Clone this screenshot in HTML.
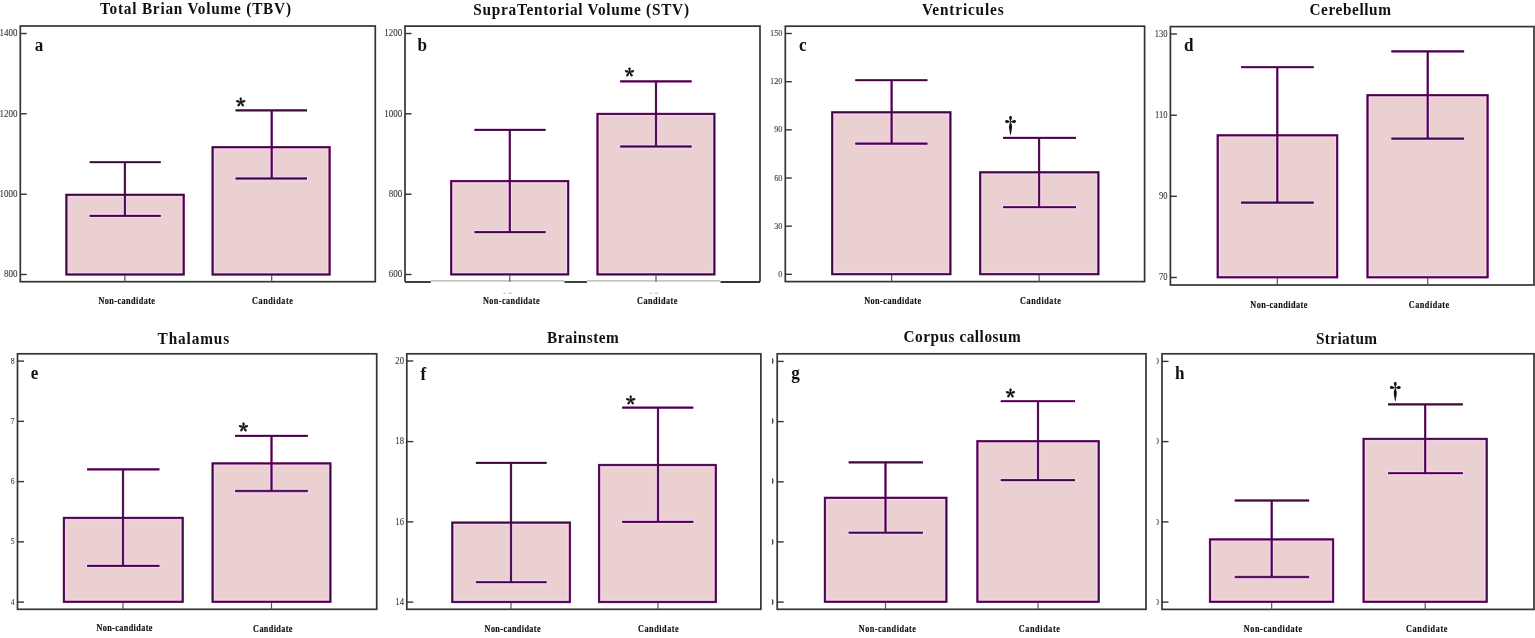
<!DOCTYPE html>
<html><head><meta charset="utf-8"><title>Figure</title>
<style>
html,body{margin:0;padding:0;background:#fff;}
body{width:1535px;height:638px;overflow:hidden;}
svg{display:block;}
text{font-family:"Liberation Serif","Times New Roman",serif;}
.tt{font-size:17px;font-weight:bold;fill:#111;}
.lt{font-size:19px;font-weight:bold;fill:#111;}
.xl{font-size:10.5px;font-weight:bold;fill:#111;stroke:#111;stroke-width:0.18px;}
.tl{font-size:10px;fill:#383838;stroke:#383838;stroke-width:0.1px;}
.st{font-family:"Noto Serif CJK SC","Liberation Serif",serif;font-size:19.5px;font-weight:bold;fill:#111;stroke:#111;stroke-width:0.5px;}
.dg{font-family:"Noto Serif CJK SC","Liberation Serif",serif;font-size:21px;font-weight:bold;fill:#111;}
</style></head>
<body>
<svg width="1535" height="638" viewBox="0 0 1535 638">
<rect width="1535" height="638" fill="#fff"/>
<rect x="20.3" y="26" width="355" height="255.7" fill="none" stroke="#343434" stroke-width="1.7"/>
<line x1="20.3" y1="33.5" x2="26.8" y2="33.5" stroke="#343434" stroke-width="1.4"/>
<line x1="20.3" y1="113.8" x2="26.8" y2="113.8" stroke="#343434" stroke-width="1.4"/>
<line x1="20.3" y1="194.2" x2="26.8" y2="194.2" stroke="#343434" stroke-width="1.4"/>
<line x1="20.3" y1="274.5" x2="26.8" y2="274.5" stroke="#343434" stroke-width="1.4"/>
<text class="tl" style="font-size:10px" transform="translate(17.5 36.4) scale(0.9 1)" x="0" y="0" text-anchor="end">1400</text>
<text class="tl" style="font-size:10px" transform="translate(17.5 116.7) scale(0.9 1)" x="0" y="0" text-anchor="end">1200</text>
<text class="tl" style="font-size:10px" transform="translate(17.5 197.1) scale(0.9 1)" x="0" y="0" text-anchor="end">1000</text>
<text class="tl" style="font-size:10px" transform="translate(17.5 277.4) scale(0.9 1)" x="0" y="0" text-anchor="end">800</text>
<line x1="124.9" y1="274.5" x2="124.9" y2="281.7" stroke="#555" stroke-width="1.2"/>
<rect x="66.4" y="194.8" width="117.3" height="79.7" fill="#ebd0d2"/>
<rect x="68.3" y="196.7" width="113.5" height="75.9" fill="none" stroke="#f6d3f5" stroke-width="1.2"/>
<line x1="124.9" y1="194.8" x2="124.9" y2="215.8" stroke="#f6d3f5" stroke-width="4.4"/>
<line x1="88.7" y1="215.8" x2="161.7" y2="215.8" stroke="#f6d3f5" stroke-width="4.4"/>
<rect x="66.4" y="194.8" width="117.3" height="79.7" fill="none" stroke="#9c40a0" stroke-width="2.3"/>
<path d="M124.9 162.2V215.8M89.7 162.2H160.7M89.7 215.8H160.7" fill="none" stroke="#9c40a0" stroke-width="2.3"/>
<rect x="66.4" y="194.8" width="117.3" height="79.7" fill="none" stroke="#3e0a3e" stroke-width="1.65"/>
<path d="M124.9 162.2V215.8M89.7 162.2H160.7M89.7 215.8H160.7" fill="none" stroke="#3e0a3e" stroke-width="1.65"/>
<line x1="271.7" y1="274.5" x2="271.7" y2="281.7" stroke="#555" stroke-width="1.2"/>
<rect x="212.6" y="147.2" width="117" height="127.3" fill="#ebd0d2"/>
<rect x="214.5" y="149.1" width="113.2" height="123.5" fill="none" stroke="#f6d3f5" stroke-width="1.2"/>
<line x1="271.7" y1="147.2" x2="271.7" y2="178.5" stroke="#f6d3f5" stroke-width="4.4"/>
<line x1="234.6" y1="178.5" x2="308" y2="178.5" stroke="#f6d3f5" stroke-width="4.4"/>
<rect x="212.6" y="147.2" width="117" height="127.3" fill="none" stroke="#9c40a0" stroke-width="2.3"/>
<path d="M271.7 110.3V178.5M235.6 110.3H307M235.6 178.5H307" fill="none" stroke="#9c40a0" stroke-width="2.3"/>
<rect x="212.6" y="147.2" width="117" height="127.3" fill="none" stroke="#3e0a3e" stroke-width="1.65"/>
<path d="M271.7 110.3V178.5M235.6 110.3H307M235.6 178.5H307" fill="none" stroke="#3e0a3e" stroke-width="1.65"/>
<text class="tt" transform="translate(100 13.8) scale(0.9 1)" x="0" y="0" textLength="212.22" lengthAdjust="spacing">Total Brian Volume (TBV)</text>
<text class="lt" transform="translate(34.8 51) scale(0.9 1)" x="0" y="0">a</text>
<text class="xl" transform="translate(98.4 303.7) scale(0.78 1)" x="0" y="0" textLength="72.56" lengthAdjust="spacing">Non-candidate</text>
<text class="xl" transform="translate(252.1 303.7) scale(0.78 1)" x="0" y="0" textLength="52.18" lengthAdjust="spacing">Candidate</text>
<text class="st" x="240.85" y="114.1" text-anchor="middle">*</text>
<path d="M405 281.7V26.2H760V281.7" fill="none" stroke="#343434" stroke-width="1.7"/>
<line x1="405" y1="282" x2="430.8" y2="282" stroke="#343434" stroke-width="1.9"/>
<line x1="564.4" y1="282" x2="586.9" y2="282" stroke="#343434" stroke-width="1.9"/>
<line x1="720.5" y1="282" x2="760" y2="282" stroke="#343434" stroke-width="1.9"/>
<rect x="503.3" y="292.6" width="2.6" height="1.2" fill="#c8c8c8"/>
<rect x="508.2" y="292.6" width="4.1" height="1.2" fill="#c8c8c8"/>
<rect x="649.8" y="292.6" width="2.6" height="1.2" fill="#c8c8c8"/>
<rect x="654.5" y="292.6" width="4" height="1.2" fill="#c8c8c8"/>
<line x1="430.8" y1="280.8" x2="564.4" y2="280.8" stroke="#b0b0b0" stroke-width="1.3"/>
<line x1="586.9" y1="280.8" x2="720.5" y2="280.8" stroke="#b0b0b0" stroke-width="1.3"/>
<line x1="405" y1="33.5" x2="411.5" y2="33.5" stroke="#343434" stroke-width="1.4"/>
<line x1="405" y1="113.8" x2="411.5" y2="113.8" stroke="#343434" stroke-width="1.4"/>
<line x1="405" y1="194.2" x2="411.5" y2="194.2" stroke="#343434" stroke-width="1.4"/>
<line x1="405" y1="274.5" x2="411.5" y2="274.5" stroke="#343434" stroke-width="1.4"/>
<text class="tl" style="font-size:10px" transform="translate(402.2 36.4) scale(0.9 1)" x="0" y="0" text-anchor="end">1200</text>
<text class="tl" style="font-size:10px" transform="translate(402.2 116.7) scale(0.9 1)" x="0" y="0" text-anchor="end">1000</text>
<text class="tl" style="font-size:10px" transform="translate(402.2 197.1) scale(0.9 1)" x="0" y="0" text-anchor="end">800</text>
<text class="tl" style="font-size:10px" transform="translate(402.2 277.4) scale(0.9 1)" x="0" y="0" text-anchor="end">600</text>
<line x1="509.8" y1="274.4" x2="509.8" y2="281.7" stroke="#555" stroke-width="1.2"/>
<rect x="451.2" y="181.1" width="117" height="93.3" fill="#ebd0d2"/>
<rect x="453.1" y="183" width="113.2" height="89.5" fill="none" stroke="#f6d3f5" stroke-width="1.2"/>
<line x1="509.8" y1="181.1" x2="509.8" y2="232.1" stroke="#f6d3f5" stroke-width="4.4"/>
<line x1="473.5" y1="232.1" x2="546.5" y2="232.1" stroke="#f6d3f5" stroke-width="4.4"/>
<rect x="451.2" y="181.1" width="117" height="93.3" fill="none" stroke="#9c40a0" stroke-width="2.3"/>
<path d="M509.8 129.8V232.1M474.5 129.8H545.5M474.5 232.1H545.5" fill="none" stroke="#9c40a0" stroke-width="2.3"/>
<rect x="451.2" y="181.1" width="117" height="93.3" fill="none" stroke="#3e0a3e" stroke-width="1.65"/>
<path d="M509.8 129.8V232.1M474.5 129.8H545.5M474.5 232.1H545.5" fill="none" stroke="#3e0a3e" stroke-width="1.65"/>
<line x1="656" y1="274.4" x2="656" y2="281.7" stroke="#555" stroke-width="1.2"/>
<rect x="597.5" y="113.9" width="116.9" height="160.5" fill="#ebd0d2"/>
<rect x="599.4" y="115.8" width="113.1" height="156.7" fill="none" stroke="#f6d3f5" stroke-width="1.2"/>
<line x1="656" y1="113.9" x2="656" y2="146.5" stroke="#f6d3f5" stroke-width="4.4"/>
<line x1="619.2" y1="146.5" x2="692.6" y2="146.5" stroke="#f6d3f5" stroke-width="4.4"/>
<rect x="597.5" y="113.9" width="116.9" height="160.5" fill="none" stroke="#9c40a0" stroke-width="2.3"/>
<path d="M656 81.4V146.5M620.2 81.4H691.6M620.2 146.5H691.6" fill="none" stroke="#9c40a0" stroke-width="2.3"/>
<rect x="597.5" y="113.9" width="116.9" height="160.5" fill="none" stroke="#3e0a3e" stroke-width="1.65"/>
<path d="M656 81.4V146.5M620.2 81.4H691.6M620.2 146.5H691.6" fill="none" stroke="#3e0a3e" stroke-width="1.65"/>
<text class="tt" transform="translate(473.3 14.9) scale(0.9 1)" x="0" y="0" textLength="239.67" lengthAdjust="spacing">SupraTentorial Volume (STV)</text>
<text class="lt" transform="translate(417.6 51) scale(0.9 1)" x="0" y="0">b</text>
<text class="xl" transform="translate(483 303.7) scale(0.78 1)" x="0" y="0" textLength="72.56" lengthAdjust="spacing">Non-candidate</text>
<text class="xl" transform="translate(637 303.7) scale(0.78 1)" x="0" y="0" textLength="51.92" lengthAdjust="spacing">Candidate</text>
<text class="st" x="629.55" y="83.8" text-anchor="middle">*</text>
<rect x="785.3" y="26.2" width="359.3" height="255.4" fill="none" stroke="#343434" stroke-width="1.7"/>
<line x1="785.3" y1="33.5" x2="791.8" y2="33.5" stroke="#343434" stroke-width="1.4"/>
<line x1="785.3" y1="81.7" x2="791.8" y2="81.7" stroke="#343434" stroke-width="1.4"/>
<line x1="785.3" y1="129.8" x2="791.8" y2="129.8" stroke="#343434" stroke-width="1.4"/>
<line x1="785.3" y1="178" x2="791.8" y2="178" stroke="#343434" stroke-width="1.4"/>
<line x1="785.3" y1="226.2" x2="791.8" y2="226.2" stroke="#343434" stroke-width="1.4"/>
<line x1="785.3" y1="274.3" x2="791.8" y2="274.3" stroke="#343434" stroke-width="1.4"/>
<text class="tl" style="font-size:9.2px" transform="translate(782.5 36.17) scale(0.9 1)" x="0" y="0" text-anchor="end">150</text>
<text class="tl" style="font-size:9.2px" transform="translate(782.5 84.37) scale(0.9 1)" x="0" y="0" text-anchor="end">120</text>
<text class="tl" style="font-size:9.2px" transform="translate(782.5 132.47) scale(0.9 1)" x="0" y="0" text-anchor="end">90</text>
<text class="tl" style="font-size:9.2px" transform="translate(782.5 180.67) scale(0.9 1)" x="0" y="0" text-anchor="end">60</text>
<text class="tl" style="font-size:9.2px" transform="translate(782.5 228.87) scale(0.9 1)" x="0" y="0" text-anchor="end">30</text>
<text class="tl" style="font-size:9.2px" transform="translate(782.5 276.97) scale(0.9 1)" x="0" y="0" text-anchor="end">0</text>
<line x1="891.6" y1="274.2" x2="891.6" y2="281.6" stroke="#555" stroke-width="1.2"/>
<rect x="832.2" y="112.3" width="118.2" height="161.9" fill="#ebd0d2"/>
<rect x="834.1" y="114.2" width="114.4" height="158.1" fill="none" stroke="#f6d3f5" stroke-width="1.2"/>
<line x1="891.6" y1="112.3" x2="891.6" y2="143.6" stroke="#f6d3f5" stroke-width="4.4"/>
<line x1="854.3" y1="143.6" x2="928.4" y2="143.6" stroke="#f6d3f5" stroke-width="4.4"/>
<rect x="832.2" y="112.3" width="118.2" height="161.9" fill="none" stroke="#9c40a0" stroke-width="2.3"/>
<path d="M891.6 80.2V143.6M855.3 80.2H927.4M855.3 143.6H927.4" fill="none" stroke="#9c40a0" stroke-width="2.3"/>
<rect x="832.2" y="112.3" width="118.2" height="161.9" fill="none" stroke="#3e0a3e" stroke-width="1.65"/>
<path d="M891.6 80.2V143.6M855.3 80.2H927.4M855.3 143.6H927.4" fill="none" stroke="#3e0a3e" stroke-width="1.65"/>
<line x1="1039.1" y1="274.2" x2="1039.1" y2="281.6" stroke="#555" stroke-width="1.2"/>
<rect x="980.2" y="172.3" width="118.2" height="101.9" fill="#ebd0d2"/>
<rect x="982.1" y="174.2" width="114.4" height="98.1" fill="none" stroke="#f6d3f5" stroke-width="1.2"/>
<line x1="1039.1" y1="172.3" x2="1039.1" y2="207.2" stroke="#f6d3f5" stroke-width="4.4"/>
<line x1="1002.1" y1="207.2" x2="1077" y2="207.2" stroke="#f6d3f5" stroke-width="4.4"/>
<rect x="980.2" y="172.3" width="118.2" height="101.9" fill="none" stroke="#9c40a0" stroke-width="2.3"/>
<path d="M1039.1 137.8V207.2M1003.1 137.8H1076M1003.1 207.2H1076" fill="none" stroke="#9c40a0" stroke-width="2.3"/>
<rect x="980.2" y="172.3" width="118.2" height="101.9" fill="none" stroke="#3e0a3e" stroke-width="1.65"/>
<path d="M1039.1 137.8V207.2M1003.1 137.8H1076M1003.1 207.2H1076" fill="none" stroke="#3e0a3e" stroke-width="1.65"/>
<text class="tt" transform="translate(921.9 14.9) scale(0.9 1)" x="0" y="0" textLength="90.78" lengthAdjust="spacing">Ventricules</text>
<text class="lt" transform="translate(798.9 51.4) scale(0.9 1)" x="0" y="0">c</text>
<text class="xl" transform="translate(864.2 303.9) scale(0.78 1)" x="0" y="0" textLength="72.95" lengthAdjust="spacing">Non-candidate</text>
<text class="xl" transform="translate(1020.1 303.9) scale(0.78 1)" x="0" y="0" textLength="52.31" lengthAdjust="spacing">Candidate</text>
<text class="dg" x="1010.4" y="133.3" text-anchor="middle">†</text>
<rect x="1170.4" y="26.6" width="363.6" height="258.4" fill="none" stroke="#343434" stroke-width="1.7"/>
<line x1="1170.4" y1="34" x2="1176.9" y2="34" stroke="#343434" stroke-width="1.4"/>
<line x1="1170.4" y1="115.2" x2="1176.9" y2="115.2" stroke="#343434" stroke-width="1.4"/>
<line x1="1170.4" y1="196.3" x2="1176.9" y2="196.3" stroke="#343434" stroke-width="1.4"/>
<line x1="1170.4" y1="277.5" x2="1176.9" y2="277.5" stroke="#343434" stroke-width="1.4"/>
<text class="tl" style="font-size:9.5px" transform="translate(1167.6 36.76) scale(0.9 1)" x="0" y="0" text-anchor="end">130</text>
<text class="tl" style="font-size:9.5px" transform="translate(1167.6 117.95) scale(0.9 1)" x="0" y="0" text-anchor="end">110</text>
<text class="tl" style="font-size:9.5px" transform="translate(1167.6 199.06) scale(0.9 1)" x="0" y="0" text-anchor="end">90</text>
<text class="tl" style="font-size:9.5px" transform="translate(1167.6 280.25) scale(0.9 1)" x="0" y="0" text-anchor="end">70</text>
<line x1="1277.3" y1="277.3" x2="1277.3" y2="285" stroke="#555" stroke-width="1.2"/>
<rect x="1217.7" y="135.3" width="119.5" height="142" fill="#ebd0d2"/>
<rect x="1219.6" y="137.2" width="115.7" height="138.2" fill="none" stroke="#f6d3f5" stroke-width="1.2"/>
<line x1="1277.3" y1="135.3" x2="1277.3" y2="202.6" stroke="#f6d3f5" stroke-width="4.4"/>
<line x1="1240" y1="202.6" x2="1314.7" y2="202.6" stroke="#f6d3f5" stroke-width="4.4"/>
<rect x="1217.7" y="135.3" width="119.5" height="142" fill="none" stroke="#9c40a0" stroke-width="2.3"/>
<path d="M1277.3 67.2V202.6M1241 67.2H1313.7M1241 202.6H1313.7" fill="none" stroke="#9c40a0" stroke-width="2.3"/>
<rect x="1217.7" y="135.3" width="119.5" height="142" fill="none" stroke="#3e0a3e" stroke-width="1.65"/>
<path d="M1277.3 67.2V202.6M1241 67.2H1313.7M1241 202.6H1313.7" fill="none" stroke="#3e0a3e" stroke-width="1.65"/>
<line x1="1427.7" y1="277.3" x2="1427.7" y2="285" stroke="#555" stroke-width="1.2"/>
<rect x="1367.5" y="95.2" width="120.1" height="182.1" fill="#ebd0d2"/>
<rect x="1369.4" y="97.1" width="116.3" height="178.3" fill="none" stroke="#f6d3f5" stroke-width="1.2"/>
<line x1="1427.7" y1="95.2" x2="1427.7" y2="138.6" stroke="#f6d3f5" stroke-width="4.4"/>
<line x1="1390.4" y1="138.6" x2="1465.1" y2="138.6" stroke="#f6d3f5" stroke-width="4.4"/>
<rect x="1367.5" y="95.2" width="120.1" height="182.1" fill="none" stroke="#9c40a0" stroke-width="2.3"/>
<path d="M1427.7 51.4V138.6M1391.4 51.4H1464.1M1391.4 138.6H1464.1" fill="none" stroke="#9c40a0" stroke-width="2.3"/>
<rect x="1367.5" y="95.2" width="120.1" height="182.1" fill="none" stroke="#3e0a3e" stroke-width="1.65"/>
<path d="M1427.7 51.4V138.6M1391.4 51.4H1464.1M1391.4 138.6H1464.1" fill="none" stroke="#3e0a3e" stroke-width="1.65"/>
<text class="tt" transform="translate(1309.5 14.9) scale(0.9 1)" x="0" y="0" textLength="90.44" lengthAdjust="spacing">Cerebellum</text>
<text class="lt" transform="translate(1183.9 51.4) scale(0.9 1)" x="0" y="0">d</text>
<text class="xl" transform="translate(1250.3 307.8) scale(0.78 1)" x="0" y="0" textLength="73.21" lengthAdjust="spacing">Non-candidate</text>
<text class="xl" transform="translate(1408.8 307.5) scale(0.78 1)" x="0" y="0" textLength="51.79" lengthAdjust="spacing">Candidate</text>
<rect x="17.5" y="353.8" width="359.2" height="255.5" fill="none" stroke="#343434" stroke-width="1.7"/>
<line x1="17.5" y1="361.1" x2="24" y2="361.1" stroke="#343434" stroke-width="1.4"/>
<line x1="17.5" y1="421.35" x2="24" y2="421.35" stroke="#343434" stroke-width="1.4"/>
<line x1="17.5" y1="481.6" x2="24" y2="481.6" stroke="#343434" stroke-width="1.4"/>
<line x1="17.5" y1="541.85" x2="24" y2="541.85" stroke="#343434" stroke-width="1.4"/>
<line x1="17.5" y1="602.1" x2="24" y2="602.1" stroke="#343434" stroke-width="1.4"/>
<text class="tl" style="font-size:8.5px" transform="translate(14.7 363.56) scale(0.9 1)" x="0" y="0" text-anchor="end">8</text>
<text class="tl" style="font-size:8.5px" transform="translate(14.7 423.81) scale(0.9 1)" x="0" y="0" text-anchor="end">7</text>
<text class="tl" style="font-size:8.5px" transform="translate(14.7 484.06) scale(0.9 1)" x="0" y="0" text-anchor="end">6</text>
<text class="tl" style="font-size:8.5px" transform="translate(14.7 544.32) scale(0.9 1)" x="0" y="0" text-anchor="end">5</text>
<text class="tl" style="font-size:8.5px" transform="translate(14.7 604.57) scale(0.9 1)" x="0" y="0" text-anchor="end">4</text>
<line x1="123" y1="601.8" x2="123" y2="609.3" stroke="#555" stroke-width="1.2"/>
<rect x="63.9" y="517.9" width="118.8" height="83.9" fill="#ebd0d2"/>
<rect x="65.8" y="519.8" width="115" height="80.1" fill="none" stroke="#f6d3f5" stroke-width="1.2"/>
<line x1="123" y1="517.9" x2="123" y2="565.9" stroke="#f6d3f5" stroke-width="4.4"/>
<line x1="86.1" y1="565.9" x2="160.4" y2="565.9" stroke="#f6d3f5" stroke-width="4.4"/>
<rect x="63.9" y="517.9" width="118.8" height="83.9" fill="none" stroke="#9c40a0" stroke-width="2.3"/>
<path d="M123 469.4V565.9M87.1 469.4H159.4M87.1 565.9H159.4" fill="none" stroke="#9c40a0" stroke-width="2.3"/>
<rect x="63.9" y="517.9" width="118.8" height="83.9" fill="none" stroke="#3e0a3e" stroke-width="1.65"/>
<path d="M123 469.4V565.9M87.1 469.4H159.4M87.1 565.9H159.4" fill="none" stroke="#3e0a3e" stroke-width="1.65"/>
<line x1="271.5" y1="601.8" x2="271.5" y2="609.3" stroke="#555" stroke-width="1.2"/>
<rect x="212.6" y="463.4" width="117.8" height="138.4" fill="#ebd0d2"/>
<rect x="214.5" y="465.3" width="114" height="134.6" fill="none" stroke="#f6d3f5" stroke-width="1.2"/>
<line x1="271.5" y1="463.4" x2="271.5" y2="491" stroke="#f6d3f5" stroke-width="4.4"/>
<line x1="234.1" y1="491" x2="308.8" y2="491" stroke="#f6d3f5" stroke-width="4.4"/>
<rect x="212.6" y="463.4" width="117.8" height="138.4" fill="none" stroke="#9c40a0" stroke-width="2.3"/>
<path d="M271.5 435.8V491M235.1 435.8H307.8M235.1 491H307.8" fill="none" stroke="#9c40a0" stroke-width="2.3"/>
<rect x="212.6" y="463.4" width="117.8" height="138.4" fill="none" stroke="#3e0a3e" stroke-width="1.65"/>
<path d="M271.5 435.8V491M235.1 435.8H307.8M235.1 491H307.8" fill="none" stroke="#3e0a3e" stroke-width="1.65"/>
<text class="tt" transform="translate(157.6 343.8) scale(0.9 1)" x="0" y="0" textLength="79.44" lengthAdjust="spacing">Thalamus</text>
<text class="lt" transform="translate(30.8 378.9) scale(0.9 1)" x="0" y="0">e</text>
<text class="xl" transform="translate(96.4 631.4) scale(0.78 1)" x="0" y="0" textLength="71.79" lengthAdjust="spacing">Non-candidate</text>
<text class="xl" transform="translate(253.1 631.5) scale(0.78 1)" x="0" y="0" textLength="50.51" lengthAdjust="spacing">Candidate</text>
<text class="st" x="243.5" y="439.2" text-anchor="middle">*</text>
<rect x="406.8" y="353.8" width="354.1" height="255.5" fill="none" stroke="#343434" stroke-width="1.7"/>
<line x1="406.8" y1="361" x2="413.3" y2="361" stroke="#343434" stroke-width="1.4"/>
<line x1="406.8" y1="441.6" x2="413.3" y2="441.6" stroke="#343434" stroke-width="1.4"/>
<line x1="406.8" y1="521.9" x2="413.3" y2="521.9" stroke="#343434" stroke-width="1.4"/>
<line x1="406.8" y1="602.1" x2="413.3" y2="602.1" stroke="#343434" stroke-width="1.4"/>
<text class="tl" style="font-size:9.6px" transform="translate(404 363.78) scale(0.9 1)" x="0" y="0" text-anchor="end">20</text>
<text class="tl" style="font-size:9.6px" transform="translate(404 444.38) scale(0.9 1)" x="0" y="0" text-anchor="end">18</text>
<text class="tl" style="font-size:9.6px" transform="translate(404 524.68) scale(0.9 1)" x="0" y="0" text-anchor="end">16</text>
<text class="tl" style="font-size:9.6px" transform="translate(404 604.88) scale(0.9 1)" x="0" y="0" text-anchor="end">14</text>
<line x1="511" y1="602" x2="511" y2="609.3" stroke="#555" stroke-width="1.2"/>
<rect x="452.3" y="522.6" width="117.6" height="79.4" fill="#ebd0d2"/>
<rect x="454.2" y="524.5" width="113.8" height="75.6" fill="none" stroke="#f6d3f5" stroke-width="1.2"/>
<line x1="511" y1="522.6" x2="511" y2="582.2" stroke="#f6d3f5" stroke-width="4.4"/>
<line x1="474.9" y1="582.2" x2="547.6" y2="582.2" stroke="#f6d3f5" stroke-width="4.4"/>
<rect x="452.3" y="522.6" width="117.6" height="79.4" fill="none" stroke="#9c40a0" stroke-width="2.3"/>
<path d="M511 462.9V582.2M475.9 462.9H546.6M475.9 582.2H546.6" fill="none" stroke="#9c40a0" stroke-width="2.3"/>
<rect x="452.3" y="522.6" width="117.6" height="79.4" fill="none" stroke="#3e0a3e" stroke-width="1.65"/>
<path d="M511 462.9V582.2M475.9 462.9H546.6M475.9 582.2H546.6" fill="none" stroke="#3e0a3e" stroke-width="1.65"/>
<line x1="658" y1="602" x2="658" y2="609.3" stroke="#555" stroke-width="1.2"/>
<rect x="599.1" y="465" width="116.7" height="137" fill="#ebd0d2"/>
<rect x="601" y="466.9" width="112.9" height="133.2" fill="none" stroke="#f6d3f5" stroke-width="1.2"/>
<line x1="658" y1="465" x2="658" y2="521.9" stroke="#f6d3f5" stroke-width="4.4"/>
<line x1="621.2" y1="521.9" x2="694.3" y2="521.9" stroke="#f6d3f5" stroke-width="4.4"/>
<rect x="599.1" y="465" width="116.7" height="137" fill="none" stroke="#9c40a0" stroke-width="2.3"/>
<path d="M658 407.6V521.9M622.2 407.6H693.3M622.2 521.9H693.3" fill="none" stroke="#9c40a0" stroke-width="2.3"/>
<rect x="599.1" y="465" width="116.7" height="137" fill="none" stroke="#3e0a3e" stroke-width="1.65"/>
<path d="M658 407.6V521.9M622.2 407.6H693.3M622.2 521.9H693.3" fill="none" stroke="#3e0a3e" stroke-width="1.65"/>
<text class="tt" transform="translate(547 342.6) scale(0.9 1)" x="0" y="0" textLength="79.67" lengthAdjust="spacing">Brainstem</text>
<text class="lt" transform="translate(420.6 380.2) scale(0.9 1)" x="0" y="0">f</text>
<text class="xl" transform="translate(484.6 631.5) scale(0.78 1)" x="0" y="0" textLength="71.79" lengthAdjust="spacing">Non-candidate</text>
<text class="xl" transform="translate(638 631.5) scale(0.78 1)" x="0" y="0" textLength="52.18" lengthAdjust="spacing">Candidate</text>
<text class="st" x="630.7" y="411.5" text-anchor="middle">*</text>
<rect x="777.2" y="353.8" width="368.8" height="255.5" fill="none" stroke="#343434" stroke-width="1.7"/>
<line x1="777.2" y1="361.4" x2="783.7" y2="361.4" stroke="#343434" stroke-width="1.4"/>
<line x1="777.2" y1="421.6" x2="783.7" y2="421.6" stroke="#343434" stroke-width="1.4"/>
<line x1="777.2" y1="481.8" x2="783.7" y2="481.8" stroke="#343434" stroke-width="1.4"/>
<line x1="777.2" y1="541.9" x2="783.7" y2="541.9" stroke="#343434" stroke-width="1.4"/>
<line x1="777.2" y1="602.1" x2="783.7" y2="602.1" stroke="#343434" stroke-width="1.4"/>
<clipPath id="clipg"><rect x="771.9" y="353.8" width="4.1" height="255.5"/></clipPath>
<g clip-path="url(#clipg)">
<text class="tl" style="font-size:9px;font-weight:bold" x="773.7" y="364" text-anchor="end">0</text>
<text class="tl" style="font-size:9px;font-weight:bold" x="773.7" y="424.2" text-anchor="end">0</text>
<text class="tl" style="font-size:9px;font-weight:bold" x="773.7" y="484.4" text-anchor="end">0</text>
<text class="tl" style="font-size:9px;font-weight:bold" x="773.7" y="544.5" text-anchor="end">0</text>
<text class="tl" style="font-size:9px;font-weight:bold" x="773.7" y="604.7" text-anchor="end">0</text>
</g>
<line x1="885.5" y1="601.8" x2="885.5" y2="609.3" stroke="#555" stroke-width="1.2"/>
<rect x="824.9" y="497.8" width="121.5" height="104" fill="#ebd0d2"/>
<rect x="826.8" y="499.7" width="117.7" height="100.2" fill="none" stroke="#f6d3f5" stroke-width="1.2"/>
<line x1="885.5" y1="497.8" x2="885.5" y2="532.7" stroke="#f6d3f5" stroke-width="4.4"/>
<line x1="847.7" y1="532.7" x2="923.9" y2="532.7" stroke="#f6d3f5" stroke-width="4.4"/>
<rect x="824.9" y="497.8" width="121.5" height="104" fill="none" stroke="#9c40a0" stroke-width="2.3"/>
<path d="M885.5 462.4V532.7M848.7 462.4H922.9M848.7 532.7H922.9" fill="none" stroke="#9c40a0" stroke-width="2.3"/>
<rect x="824.9" y="497.8" width="121.5" height="104" fill="none" stroke="#3e0a3e" stroke-width="1.65"/>
<path d="M885.5 462.4V532.7M848.7 462.4H922.9M848.7 532.7H922.9" fill="none" stroke="#3e0a3e" stroke-width="1.65"/>
<line x1="1038" y1="601.8" x2="1038" y2="609.3" stroke="#555" stroke-width="1.2"/>
<rect x="977.4" y="441.2" width="121.3" height="160.6" fill="#ebd0d2"/>
<rect x="979.3" y="443.1" width="117.5" height="156.8" fill="none" stroke="#f6d3f5" stroke-width="1.2"/>
<line x1="1038" y1="441.2" x2="1038" y2="480.1" stroke="#f6d3f5" stroke-width="4.4"/>
<line x1="999.8" y1="480.1" x2="1076" y2="480.1" stroke="#f6d3f5" stroke-width="4.4"/>
<rect x="977.4" y="441.2" width="121.3" height="160.6" fill="none" stroke="#9c40a0" stroke-width="2.3"/>
<path d="M1038 401.2V480.1M1000.8 401.2H1075M1000.8 480.1H1075" fill="none" stroke="#9c40a0" stroke-width="2.3"/>
<rect x="977.4" y="441.2" width="121.3" height="160.6" fill="none" stroke="#3e0a3e" stroke-width="1.65"/>
<path d="M1038 401.2V480.1M1000.8 401.2H1075M1000.8 480.1H1075" fill="none" stroke="#3e0a3e" stroke-width="1.65"/>
<text class="tt" transform="translate(903.5 342.2) scale(0.9 1)" x="0" y="0" textLength="130.33" lengthAdjust="spacing">Corpus callosum</text>
<text class="lt" transform="translate(791.3 378.5) scale(0.9 1)" x="0" y="0">g</text>
<text class="xl" transform="translate(858.8 631.5) scale(0.78 1)" x="0" y="0" textLength="73.08" lengthAdjust="spacing">Non-candidate</text>
<text class="xl" transform="translate(1018.7 631.5) scale(0.78 1)" x="0" y="0" textLength="52.95" lengthAdjust="spacing">Candidate</text>
<text class="st" x="1010.5" y="405.3" text-anchor="middle">*</text>
<rect x="1162" y="353.8" width="372" height="255.6" fill="none" stroke="#343434" stroke-width="1.7"/>
<line x1="1162" y1="361.4" x2="1168.5" y2="361.4" stroke="#343434" stroke-width="1.4"/>
<line x1="1162" y1="441.6" x2="1168.5" y2="441.6" stroke="#343434" stroke-width="1.4"/>
<line x1="1162" y1="521.9" x2="1168.5" y2="521.9" stroke="#343434" stroke-width="1.4"/>
<line x1="1162" y1="602.1" x2="1168.5" y2="602.1" stroke="#343434" stroke-width="1.4"/>
<clipPath id="cliph"><rect x="1156.3" y="353.8" width="4.5" height="255.6"/></clipPath>
<g clip-path="url(#cliph)">
<text class="tl" style="font-size:9px;font-weight:normal" x="1159" y="364" text-anchor="end">0</text>
<text class="tl" style="font-size:9px;font-weight:normal" x="1159" y="444.2" text-anchor="end">0</text>
<text class="tl" style="font-size:9px;font-weight:normal" x="1159" y="524.5" text-anchor="end">0</text>
<text class="tl" style="font-size:9px;font-weight:normal" x="1159" y="604.7" text-anchor="end">0</text>
</g>
<line x1="1271.7" y1="601.8" x2="1271.7" y2="609.4" stroke="#555" stroke-width="1.2"/>
<rect x="1210" y="539.4" width="123.1" height="62.4" fill="#ebd0d2"/>
<rect x="1211.9" y="541.3" width="119.3" height="58.6" fill="none" stroke="#f6d3f5" stroke-width="1.2"/>
<line x1="1271.7" y1="539.4" x2="1271.7" y2="577" stroke="#f6d3f5" stroke-width="4.4"/>
<line x1="1233.8" y1="577" x2="1310.1" y2="577" stroke="#f6d3f5" stroke-width="4.4"/>
<rect x="1210" y="539.4" width="123.1" height="62.4" fill="none" stroke="#9c40a0" stroke-width="2.3"/>
<path d="M1271.7 500.5V577M1234.8 500.5H1309.1M1234.8 577H1309.1" fill="none" stroke="#9c40a0" stroke-width="2.3"/>
<rect x="1210" y="539.4" width="123.1" height="62.4" fill="none" stroke="#3e0a3e" stroke-width="1.65"/>
<path d="M1271.7 500.5V577M1234.8 500.5H1309.1M1234.8 577H1309.1" fill="none" stroke="#3e0a3e" stroke-width="1.65"/>
<line x1="1425.2" y1="601.8" x2="1425.2" y2="609.4" stroke="#555" stroke-width="1.2"/>
<rect x="1363.6" y="438.9" width="123.1" height="162.9" fill="#ebd0d2"/>
<rect x="1365.5" y="440.8" width="119.3" height="159.1" fill="none" stroke="#f6d3f5" stroke-width="1.2"/>
<line x1="1425.2" y1="438.9" x2="1425.2" y2="473.2" stroke="#f6d3f5" stroke-width="4.4"/>
<line x1="1387.1" y1="473.2" x2="1463.8" y2="473.2" stroke="#f6d3f5" stroke-width="4.4"/>
<rect x="1363.6" y="438.9" width="123.1" height="162.9" fill="none" stroke="#9c40a0" stroke-width="2.3"/>
<path d="M1425.2 404.3V473.2M1388.1 404.3H1462.8M1388.1 473.2H1462.8" fill="none" stroke="#9c40a0" stroke-width="2.3"/>
<rect x="1363.6" y="438.9" width="123.1" height="162.9" fill="none" stroke="#3e0a3e" stroke-width="1.65"/>
<path d="M1425.2 404.3V473.2M1388.1 404.3H1462.8M1388.1 473.2H1462.8" fill="none" stroke="#3e0a3e" stroke-width="1.65"/>
<text class="tt" transform="translate(1316 343.8) scale(0.9 1)" x="0" y="0" textLength="67.78" lengthAdjust="spacing">Striatum</text>
<text class="lt" transform="translate(1175 378.9) scale(0.9 1)" x="0" y="0">h</text>
<text class="xl" transform="translate(1243.8 631.7) scale(0.78 1)" x="0" y="0" textLength="74.87" lengthAdjust="spacing">Non-candidate</text>
<text class="xl" transform="translate(1406 631.7) scale(0.78 1)" x="0" y="0" textLength="53.21" lengthAdjust="spacing">Candidate</text>
<text class="dg" x="1395.3" y="398.8" text-anchor="middle">†</text>
</svg>
</body></html>
